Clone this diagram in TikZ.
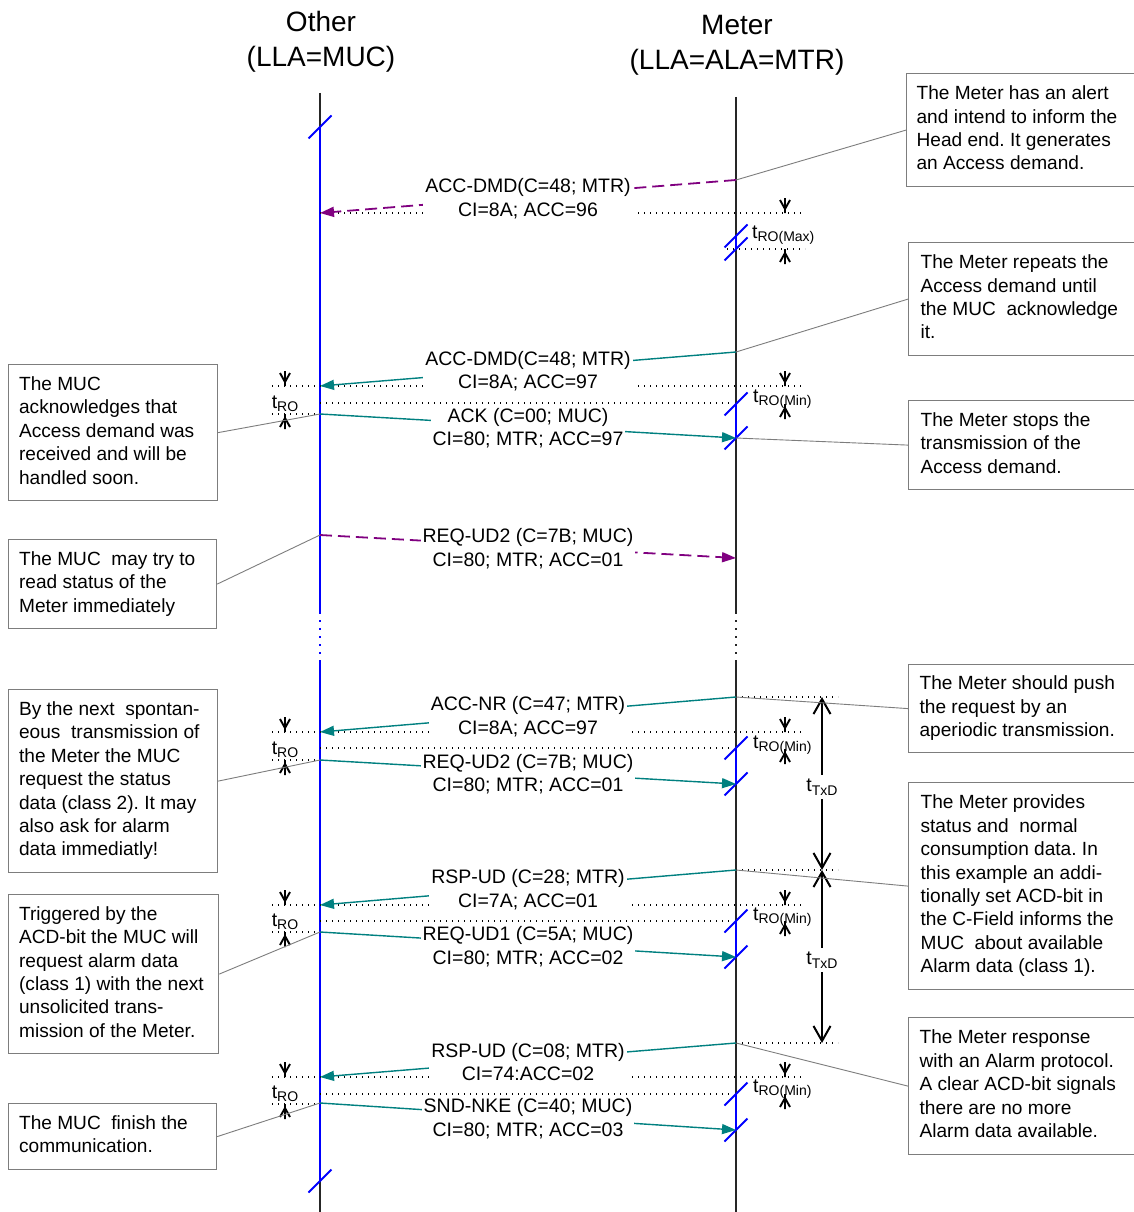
\documentclass[tikz,border=0pt]{standalone}
\usepackage{fontspec}
\setmainfont{Liberation Sans}
\usetikzlibrary{arrows.meta}
\definecolor{msgteal}{RGB}{0,128,128}
\definecolor{msgpurple}{RGB}{128,0,128}
\definecolor{notegray}{RGB}{125,125,125}
\frenchspacing

\newcommand\bodyfont{\fontsize{19.5}{23.4}\selectfont}
\newcommand\notefont{\fontsize{19.1}{23.4}\selectfont}
\newcommand\headfont{\fontsize{28}{35}\selectfont}
% time symbol with a small lowered index
\newcommand\tsub[1]{t{\fontsize{14}{14}\selectfont\raisebox{-3.5pt}{#1}}}
% note text: fixed-width, left-aligned block of explicit lines
\newcommand\notetext[2]{\makebox[#1][l]{\begin{tabular}{@{}l@{}}#2\end{tabular}}}
% short blue cut mark across a lifeline
\newcommand\cutmark[2]{\draw[slashline] (#1-11.5,#2+11.5) -- (#1+11.5,#2-11.5);}
% meter receive window: blue segment with cut marks at both ends
\newcommand\rxwin[2]{\draw[act] (736,#1) -- (736,#2); \cutmark{736}{#1}\cutmark{736}{#2}}
% reply-offset markers: arrow down onto the upper line, arrow up onto the lower line
\newcommand\rodown[2]{\draw[romark] (#1,#2-15) -- (#1,#2) (#1-5,#2-13) -- (#1,#2-4) -- (#1+5,#2-13);}
\newcommand\roup[2]{\draw[romark] (#1,#2+15) -- (#1,#2) (#1-5,#2+13) -- (#1,#2+4) -- (#1+5,#2+13);}

\begin{document}
\begin{tikzpicture}[x=1pt,y=-1pt,
  head/.style={align=center,font=\headfont,inner sep=0pt},
  life/.style={line width=1.2pt,black!85},
  act/.style={line width=2.2pt,blue},
  slashline/.style={line width=2pt,blue},
  dotline/.style={line width=1.3pt,black,dash pattern=on 1.3pt off 4.7pt},
  msg/.style={line width=1.4pt,msgteal,-{Triangle[length=14pt,width=10pt]}},
  spont/.style={line width=1.8pt,msgpurple,dash pattern=on 12pt off 6pt,-{Triangle[length=14pt,width=10pt]}},
  lbl/.style={fill=white,text=black,align=center,inner xsep=2pt,inner ysep=3pt,font=\bodyfont,yshift=-2pt},
  romark/.style={line width=1.9pt,black},
  txd/.style={line width=2pt,black,{Straight Barb[length=15pt,width=17pt]}-{Straight Barb[length=15pt,width=17pt]}},
  note/.style={draw=notegray,line width=1.2pt,anchor=north west,font=\notefont,inner ysep=0pt},
  rnote/.style={note,inner xsep=12pt},
  lnote/.style={note,inner xsep=10.5pt},
  tie/.style={notegray,line width=0.9pt}]

\fill[white] (0,0) rectangle (1133,1212);
\useasboundingbox (0,0) rectangle (1133,1212);

% ---------- headers ----------
\node[head] (hO) at (321,41.5) {Other\\(LLA=MUC)};
\node[head] (hM) at (737,45) {Meter\\(LLA=ALA=MTR)};

% ---------- lifelines ----------
\coordinate (Otop) at (320,93);  \coordinate (Oa) at (320,127);
\coordinate (Ob) at (320,612);   \coordinate (Oc) at (320,660);
\coordinate (Od) at (320,1181);  \coordinate (Obot) at (320,1212);
\draw[life] (Otop) -- (Oa);
\draw[act] (Oa) -- (Ob);
\draw[act,line width=2pt,dash pattern=on 2pt off 6pt] (Ob) -- (Oc);
\draw[act] (Oc) -- (Od);
\draw[life] (Od) -- (Obot);
\cutmark{320}{127}\cutmark{320}{1181}

\coordinate (Mtop) at (736,97);  \coordinate (Mb) at (736,612);
\coordinate (Mc) at (736,660);   \coordinate (Mbot) at (736,1212);
\draw[life] (Mtop) -- (Mb);
\draw[life,dash pattern=on 2pt off 6pt] (Mb) -- (Mc);
\draw[life] (Mc) -- (Mbot);

% ---------- timing guide lines ----------
\draw[dotline] (320,213) -- (805,213);
\draw[dotline] (727,249) -- (805,249);
\foreach \ya/\yb/\yc in {386/403/414, 732/748/760, 905/921/932, 1077/1094/1104}{
  \draw[dotline] (272,\ya) -- (805,\ya);
  \draw[dotline] (320,\yb) -- (733,\yb);
  \draw[dotline] (272,\yc) -- (320,\yc);
}
\foreach \y in {697,870,1043}{ \draw[dotline] (736,\y) -- (838,\y); }

% ---------- meter receive windows ----------
\rxwin{236}{249}
\rxwin{404}{438}
\rxwin{748}{784}
\rxwin{921}{957}
\rxwin{1094}{1130}

% ---------- reply offset markers ----------
\rodown{785}{213}\roup{785}{249}
\node[anchor=west,inner sep=0pt,font=\bodyfont] (roMax) at (752,235) {\tsub{RO(Max)}};
\foreach \ya/\yb/\yl in {386/404/399, 732/749/745, 905/921/917, 1077/1094/1089}{
  \rodown{785}{\ya}\roup{785}{\yb}
  \node[anchor=west,inner sep=0pt,font=\bodyfont] at (753,\yl) {\tsub{RO(Min)}};
}
\foreach \ya/\yb/\yl in {386/414/404, 732/760/750, 905/932/922, 1077/1104/1094}{
  \rodown{285}{\ya}\roup{285}{\yb}
  \node[inner sep=0pt,font=\bodyfont] at (285,\yl) {\tsub{RO}};
}

% ---------- message endpoints ----------
\coordinate (m1) at (736,180);  \coordinate (o1) at (320,213);
\coordinate (m2) at (736,352);  \coordinate (o2) at (320,386);
\coordinate (o3) at (320,414);  \coordinate (m3) at (736,438);
\coordinate (o4) at (320,535);  \coordinate (m4) at (736,558);
\coordinate (m5) at (736,697);  \coordinate (o5) at (320,732);
\coordinate (o6) at (320,760);  \coordinate (m6) at (736,784);
\coordinate (m7) at (736,870);  \coordinate (o7) at (320,905);
\coordinate (o8) at (320,932);  \coordinate (m8) at (736,957);
\coordinate (m9) at (736,1043); \coordinate (o9) at (320,1077);
\coordinate (o10) at (320,1103);\coordinate (m10) at (736,1130);

% ---------- messages ----------
\draw[spont] (m1) -- node[lbl] (L1) {ACC-DMD(C=48; MTR)\\CI=8A; ACC=96} (o1);
\draw[msg] (m2) -- node[lbl] (L2) {ACC-DMD(C=48; MTR)\\CI=8A; ACC=97} (o2);
\draw[msg] (o3) -- node[lbl] (L3) {ACK (C=00; MUC)\\CI=80; MTR; ACC=97} (m3);
\draw[spont] (o4) -- node[lbl] (L4) {REQ-UD2 (C=7B; MUC)\\CI=80; MTR; ACC=01} (m4);
\draw[msg] (m5) -- node[lbl] (L5) {ACC-NR (C=47; MTR)\\CI=8A; ACC=97} (o5);
\draw[msg] (o6) -- node[lbl] (L6) {REQ-UD2 (C=7B; MUC)\\CI=80; MTR; ACC=01} (m6);
\draw[msg] (m7) -- node[lbl] (L7) {RSP-UD (C=28; MTR)\\CI=7A; ACC=01} (o7);
\draw[msg] (o8) -- node[lbl] (L8) {REQ-UD1 (C=5A; MUC)\\CI=80; MTR; ACC=02} (m8);
\draw[msg] (m9) -- node[lbl] (L9) {RSP-UD (C=08; MTR)\\CI=74:ACC=02} (o9);
\draw[msg] (o10) -- node[lbl] (L10) {SND-NKE (C=40; MUC)\\CI=80; MTR; ACC=03} (m10);

% ---------- transmission delay ----------
\coordinate (t1) at (822,697); \coordinate (t2) at (822,870); \coordinate (t3) at (822,1043);
\draw[txd] (t1) -- (t2);
\draw[txd] (t2) -- (t3);
\node[fill=white,inner xsep=1pt,inner ysep=4pt,font=\bodyfont] (txd1) at (822,787) {\tsub{TxD}};
\node[fill=white,inner xsep=1pt,inner ysep=4pt,font=\bodyfont] (txd2) at (822,960) {\tsub{TxD}};

% ---------- notes ----------
\node[rnote,inner xsep=10pt,minimum height=113pt] (n1) at (906,73)
  {\notetext{214pt}{The Meter has an alert\\and intend to inform the\\Head end. It generates\\an Access demand.}};
\node[rnote,minimum height=113pt] (n2) at (908,242)
  {\notetext{208pt}{The Meter repeats the\\Access demand until\\the MUC~ acknowledge\\it.}};
\node[rnote,minimum height=89pt] (n3) at (908,400)
  {\notetext{208pt}{The Meter stops the\\transmission of the\\Access demand.}};
\node[rnote,minimum height=88pt,inner xsep=11pt] (n4) at (908,664)
  {\notetext{210pt}{The Meter should push\\the request by an\\aperiodic transmission.}};
\node[rnote,minimum height=207pt] (n5) at (908,782)
  {\notetext{208pt}{The Meter provides\\status and~ normal\\consumption data. In\\this example an addi-\\tionally set ACD-bit in\\the C-Field informs the\\MUC~ about available\\Alarm data (class 1).}};
\node[rnote,minimum height=137pt,inner xsep=11pt] (n6) at (908,1017)
  {\notetext{210pt}{The Meter response\\with an Alarm protocol.\\A clear ACD-bit signals\\there are no more\\Alarm data available.}};

\node[lnote,minimum height=136pt] (n7) at (8,364)
  {\notetext{188pt}{The MUC\\acknowledges that\\Access demand was\\received and will be\\handled soon.}};
\node[lnote,minimum height=89pt] (n8) at (8,539)
  {\notetext{187pt}{The MUC~ may try to\\read status of the\\Meter immediately}};
\node[lnote,minimum height=183pt] (n9) at (8,689)
  {\notetext{188pt}{By the next~ spontan-\\eous~ transmission of\\the Meter the MUC\\request the status\\data (class 2). It may\\also ask for alarm\\data immediatly!}};
\node[lnote,minimum height=159pt] (n10) at (8,894)
  {\notetext{189pt}{Triggered by the\\ACD-bit the MUC will\\request alarm data\\(class 1) with the next\\unsolicited trans-\\mission of the Meter.}};
\node[lnote,minimum height=66pt] (n11) at (8,1103)
  {\notetext{187pt}{The MUC~ finish the\\communication.}};

% ---------- note ties ----------
\draw[tie] (n1.west) -- (m1);
\draw[tie] (n2.west) -- (m2);
\draw[tie] (n3.west) -- (m3);
\draw[tie] (n4.west) -- (m5);
\draw[tie] (n5.west) -- (m7);
\draw[tie] (n6.west) -- (m9);
\draw[tie] (n7.east) -- (o3);
\draw[tie] (n8.east) -- (o4);
\draw[tie] (n9.east) -- (o6);
\draw[tie] (n10.east) -- (o8);
\draw[tie] (n11.east) -- (o10);
\end{tikzpicture}
\end{document}
